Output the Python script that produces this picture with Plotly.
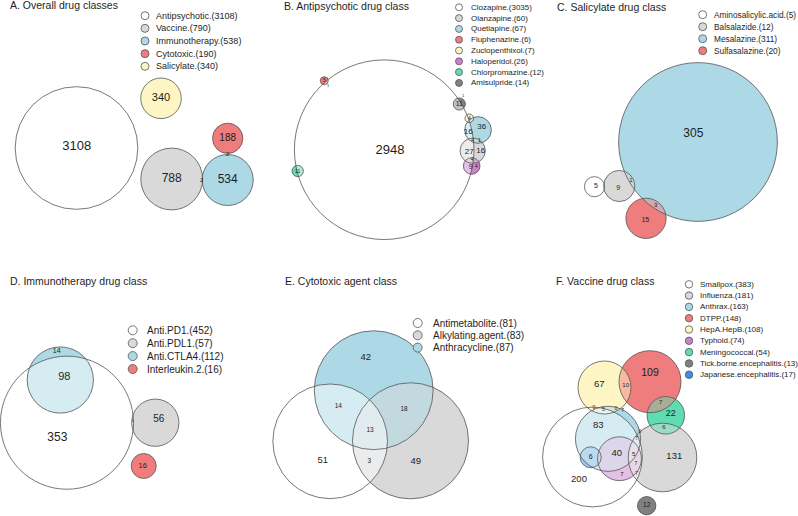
import math
import plotly.graph_objects as go

FONT = "Liberation Sans, Arial, sans-serif"
INK = "#1e1e1e"
EDGE = "#555555"

# ---------------- DATA ----------------
# A. Overall drug classes
a_sets = ["Antipsychotic", "Vaccine", "Immunotherapy", "Cytotoxic", "Salicylate"]
a_totals = [3108, 790, 538, 190, 340]
a_regions = [3108, 788, 534, 188, 340, 2, 2]

# B. Antipsychotic drug class
b_sets = ["Clozapine", "Olanzapine", "Quetiapine", "Fluphenazine", "Zuclopenthixol",
          "Haloperidol", "Chlorpromazine", "Amisulpride"]
b_totals = [3035, 60, 67, 6, 7, 26, 12, 14]
b_regions = [2948, 11, 16, 36, 27, 16, 9, 4, 4, 1, 4, 4, 5, 1, 11, 1]

# C. Salicylate drug class
c_sets = ["Aminosalicylic.acid", "Balsalazide", "Mesalazine", "Sulfasalazine"]
c_totals = [5, 12, 311, 20]
c_regions = [305, 5, 9, 1, 3, 15]

# D. Immunotherapy drug class
d_sets = ["Anti.PD1", "Anti.PDL1", "Anti.CTLA4", "Interleukin.2"]
d_totals = [452, 57, 112, 16]
d_regions = [14, 98, 353, 56, 16, 1]

# E. Cytotoxic agent class
e_sets = ["Antimetabolite", "Alkylating.agent", "Anthracycline"]
e_totals = [81, 83, 87]
e_regions = [42, 14, 18, 13, 51, 3, 49]

# F. Vaccine drug class
f_sets = ["Smallpox", "Influenza", "Anthrax", "DTPP", "HepA.HepB", "Typhoid",
          "Meningococcal", "Tick.borne.encephalitis", "Japanese.encephalitis"]
f_totals = [383, 181, 163, 148, 108, 74, 54, 13, 17]
f_regions = [109, 67, 10, 7, 22, 6, 83, 40, 6, 200, 131, 12, 5, 7, 7, 7, 7, 0, 5, 0, 7, 0]

# ---------------- STYLE / LAYOUT ----------------
WHITE, GREY, BLUE, RED = "#ffffff", "#d9d9d9", "#add8e6", "#ef7d7d"
YELLOW, PURPLE, GREEN, DGREY, JBLUE = "#fdf6c4", "#c981c9", "#5fdcb0", "#808080", "#3f8fdf"

panels = [
    dict(title="A. Overall drug classes", origin=(0, 0), title_xy=(8, 5),
         sets=a_sets, totals=a_totals, regions=a_regions, scale=1.1,
         colors=[WHITE, GREY, BLUE, RED, YELLOW],
         cx=[76.5, 171.7, 227.7, 227.7, 161], cy=[148, 179, 180, 138.3, 98.3],
         lx=[76.7, 171.7, 227.7, 227.7, 161, 201.7, 227.7],
         ly=[146.7, 179, 180, 138.3, 98.3, 180, 154.3],
         ls=[13, 12, 12, 10, 11, 6, 6],
         leg=dict(mx=145, tx=154.3, y0=15.7, dy=12.65, font=9, ms=8)),
    dict(title="B. Antipsychotic drug class", origin=(270, 0), title_xy=(11.7, 5.5),
         sets=b_sets, totals=b_totals, regions=b_regions, scale=1.63,
         colors=[WHITE, GREY, BLUE, RED, YELLOW, PURPLE, GREEN, DGREY],
         cx=[114.2, 202.7, 208, 54.3, 199.3, 201.7, 27.7, 189.3],
         cy=[149.7, 150.7, 130, 80.7, 118.3, 166, 171, 104],
         lx=[120, 189.3, 198.3, 211.7, 199.3, 210.7, 200.7, 206.5, 202.5, 209.5, 202, 199.3, 54.3, 58, 27.7, 193],
         ly=[150.7, 104.5, 131.5, 127.3, 151.7, 150.7, 167.5, 166.5, 141, 141, 160, 118.3, 80.7, 86, 171.5, 96],
         ls=[13, 7, 8, 8, 8, 8, 7, 5, 5, 5, 5, 5, 5, 4, 5, 4],
         leg=dict(mx=189, tx=199, y0=7.3, dy=10.8, font=8, ms=7)),
    dict(title="C. Salicylate drug class", origin=(540, 0), title_xy=(15, 6.5),
         sets=c_sets, totals=c_totals, regions=c_regions, scale=4.5,
         colors=[WHITE, GREY, BLUE, RED],
         cx=[54.5, 79.3, 158, 106], cy=[186.7, 186, 142, 218.3],
         lx=[153.3, 56, 78.3, 91, 115.7, 105.3], ly=[134.3, 186.7, 188.3, 180, 205.5, 220.7],
         ls=[12, 7, 7, 6, 6, 7],
         leg=dict(mx=162.7, tx=171.7, y0=14.7, dy=12, font=8.3, ms=8)),
    dict(title="D. Immunotherapy drug class", origin=(0, 250), title_xy=(8.3, 30.7),
         sets=d_sets, totals=d_totals, regions=d_regions, scale=3.13,
         colors=[WHITE, GREY, BLUE, RED],
         cx=[67, 155.3, 60.3, 143.7], cy=[172.7, 172.7, 130, 216],
         lx=[56.7, 64.3, 57.3, 158.7, 142.7, 132.7], ly=[101, 127.7, 187.7, 169.3, 216, 170.7],
         ls=[7, 11, 12, 10, 7.5, 4],
         leg=dict(mx=132.7, tx=145.3, y0=80.3, dy=12.9, font=10, ms=9)),
    dict(title="E. Cytotoxic agent class", origin=(270, 250), title_xy=(12.7, 30.7),
         sets=e_sets, totals=e_totals, regions=e_regions, scale=6.37,
         colors=[WHITE, GREY, BLUE],
         cx=[60.2, 140.5, 103.7], cy=[191.3, 190.8, 140.2],
         lx=[95.7, 68.3, 134, 100, 52.7, 99.3, 145.7], ly=[107.3, 156.7, 159, 180.7, 211, 211.3, 211.7],
         ls=[9.5, 6.5, 6.5, 6.5, 9.5, 6.5, 9.5],
         leg=dict(mx=147.7, tx=160.7, y0=73, dy=12.3, font=10, ms=9)),
    dict(title="F. Vaccine drug class", origin=(540, 250), title_xy=(14.3, 30.7),
         sets=f_sets, totals=f_totals, regions=f_regions, scale=2.55,
         colors=[WHITE, GREY, BLUE, RED, YELLOW, PURPLE, GREEN, DGREY, JBLUE],
         cx=[52.5, 122.5, 68, 110, 64.5, 79.5, 125.8, 106.7, 50.7],
         cy=[207, 207.5, 188.8, 131.7, 137.5, 208.7, 165.3, 255.7, 207.3],
         lx=[110, 59.3, 85.7, 120.7, 130.7, 124, 58.3, 76.7, 50.7, 39, 134.3, 106.7, 93.7, 82,
             96.7, 96, 96.7, 54, 63.3, 76, 82.7, 100],
         ly=[123.3, 134.3, 135.7, 152.7, 164, 177.7, 176, 203.3, 207.7, 230, 206.7, 255.7, 204, 224.3,
             189, 214, 224, 157.3, 160, 159, 161, 181.7],
         ls=[10.5, 9.5, 6, 6, 9, 6, 9.5, 9.5, 7, 9.5, 9.5, 6.5, 6, 6, 5, 5, 5, 5, 5, 5, 5, 5],
         leg=dict(mx=149, tx=158.3, y0=34.3, dy=11.3, font=8, ms=7.5)),
]

fig = go.Figure()
shapes_fill, shapes_blend, shapes_edge = [], [], []
annotations = []

for p in panels:
    ox, oy = p["origin"]
    radii = [p["scale"] * math.sqrt(t) for t in p["totals"]]
    circ = []
    for x, y, r, col in zip(p["cx"], p["cy"], radii, p["colors"]):
        X, Y = ox + x, oy + y
        circ.append((X - r, Y - r, X + r, Y + r, col))
    # pass 1: opaque fills
    for x0, y0, x1, y1, col in circ:
        shapes_fill.append(dict(type="circle", xref="x", yref="y", x0=x0, y0=y0, x1=x1, y1=y1,
                                fillcolor=col, line=dict(width=0), layer="below"))
    # pass 2: half-transparent re-fill in reverse order so overlaps blend
    for x0, y0, x1, y1, col in reversed(circ[:-1]):
        shapes_blend.append(dict(type="circle", xref="x", yref="y", x0=x0, y0=y0, x1=x1, y1=y1,
                                 fillcolor=col, opacity=0.5, line=dict(width=0), layer="below"))
    # pass 3: outlines
    for x0, y0, x1, y1, col in circ:
        shapes_edge.append(dict(type="circle", xref="x", yref="y", x0=x0, y0=y0, x1=x1, y1=y1,
                                fillcolor="rgba(0,0,0,0)", line=dict(width=0.8, color=EDGE),
                                layer="below"))
    # region counts
    fig.add_trace(go.Scatter(
        x=[ox + v for v in p["lx"]], y=[oy + v for v in p["ly"]],
        mode="text", text=[str(v) for v in p["regions"]],
        textfont=dict(family=FONT, size=p["ls"], color=INK),
        textposition="middle center", hoverinfo="skip", showlegend=False))
    # legend markers
    lg = p["leg"]
    ys = [oy + lg["y0"] + i * lg["dy"] for i in range(len(p["sets"]))]
    fig.add_trace(go.Scatter(
        x=[ox + lg["mx"]] * len(ys), y=ys, mode="markers",
        marker=dict(size=lg["ms"], color=p["colors"], line=dict(width=0.8, color=EDGE)),
        hoverinfo="skip", showlegend=False))
    for name, tot, y in zip(p["sets"], p["totals"], ys):
        annotations.append(dict(x=ox + lg["tx"], y=y, xref="x", yref="y",
                                text=f"{name}.({tot})", showarrow=False,
                                xanchor="left", yanchor="middle",
                                font=dict(family=FONT, size=lg["font"], color=INK)))
    tx, ty = p["title_xy"]
    annotations.append(dict(x=ox + tx, y=oy + ty, xref="x", yref="y", text=p["title"],
                            showarrow=False, xanchor="left", yanchor="middle",
                            font=dict(family=FONT, size=10.5, color=INK)))

fig.update_layout(
    width=798, height=516, autosize=False,
    margin=dict(l=0, r=0, t=0, b=0),
    paper_bgcolor="white", plot_bgcolor="white",
    xaxis=dict(range=[0, 798], visible=False, fixedrange=True),
    yaxis=dict(range=[516, 0], visible=False, fixedrange=True),
    shapes=shapes_fill + shapes_blend + shapes_edge,
    annotations=annotations,
)

fig.write_html("out.html", config={"displayModeBar": False},
               post_script="document.body.style.margin='0';")
